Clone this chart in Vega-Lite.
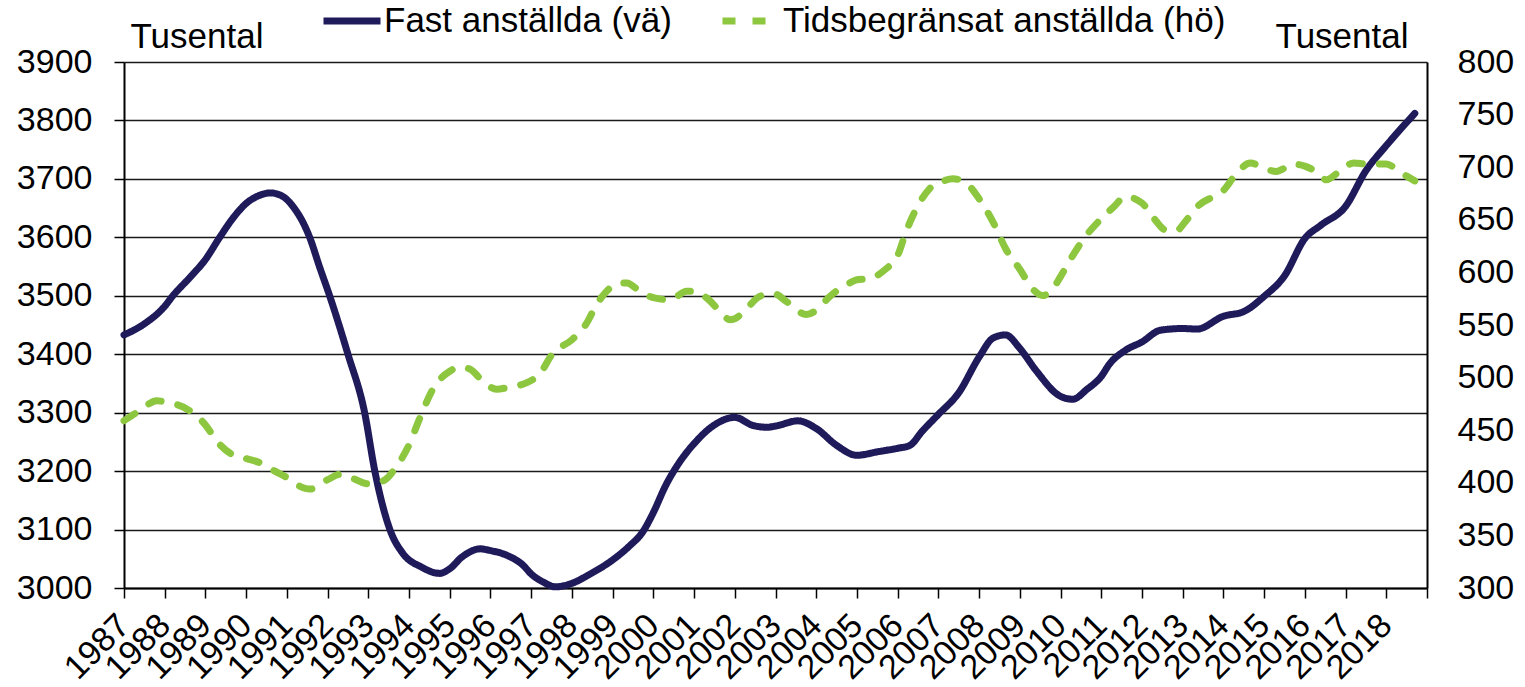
{
  "$schema": "https://vega.github.io/schema/vega-lite/v6.json",
  "width": 1303,
  "height": 526,
  "autosize": {"type": "none"},
  "padding": {"left": 124, "top": 62, "right": 98, "bottom": 99},
  "background": "white",
  "config": {
    "font": "Liberation Sans",
    "view": {"stroke": null},
    "axis": {
      "labelFont": "Liberation Sans",
      "titleFont": "Liberation Sans",
      "labelFontSize": 34,
      "titleFontSize": 35,
      "titleFontWeight": "normal",
      "labelColor": "#000",
      "titleColor": "#000",
      "domainColor": "#000",
      "domainWidth": 2,
      "tickColor": "#000",
      "tickWidth": 1.5
    },
    "legend": {
      "labelFont": "Liberation Sans",
      "labelFontSize": 35,
      "labelColor": "#000",
      "labelLimit": 0
    }
  },
  "data": {
    "values": [
      {"series": "Fast anställda (vä)", "year": 1987.0, "value": 3433},
      {"series": "Fast anställda (vä)", "year": 1987.5, "value": 3452},
      {"series": "Fast anställda (vä)", "year": 1988.0, "value": 3482},
      {"series": "Fast anställda (vä)", "year": 1988.2, "value": 3500},
      {"series": "Fast anställda (vä)", "year": 1988.6, "value": 3530},
      {"series": "Fast anställda (vä)", "year": 1989.0, "value": 3562},
      {"series": "Fast anställda (vä)", "year": 1989.35, "value": 3600},
      {"series": "Fast anställda (vä)", "year": 1989.7, "value": 3635},
      {"series": "Fast anställda (vä)", "year": 1990.0, "value": 3658},
      {"series": "Fast anställda (vä)", "year": 1990.3, "value": 3671},
      {"series": "Fast anställda (vä)", "year": 1990.6, "value": 3676},
      {"series": "Fast anställda (vä)", "year": 1990.9, "value": 3670},
      {"series": "Fast anställda (vä)", "year": 1991.2, "value": 3648},
      {"series": "Fast anställda (vä)", "year": 1991.4, "value": 3625},
      {"series": "Fast anställda (vä)", "year": 1991.56, "value": 3600},
      {"series": "Fast anställda (vä)", "year": 1991.8, "value": 3550},
      {"series": "Fast anställda (vä)", "year": 1992.05, "value": 3500},
      {"series": "Fast anställda (vä)", "year": 1992.5, "value": 3400},
      {"series": "Fast anställda (vä)", "year": 1992.91, "value": 3300},
      {"series": "Fast anställda (vä)", "year": 1993.16, "value": 3200},
      {"series": "Fast anställda (vä)", "year": 1993.53, "value": 3100},
      {"series": "Fast anställda (vä)", "year": 1993.85, "value": 3059},
      {"series": "Fast anställda (vä)", "year": 1994.3, "value": 3036},
      {"series": "Fast anställda (vä)", "year": 1994.75, "value": 3025},
      {"series": "Fast anställda (vä)", "year": 1995.0, "value": 3033},
      {"series": "Fast anställda (vä)", "year": 1995.3, "value": 3053},
      {"series": "Fast anställda (vä)", "year": 1995.75, "value": 3067},
      {"series": "Fast anställda (vä)", "year": 1996.0, "value": 3064},
      {"series": "Fast anställda (vä)", "year": 1996.4, "value": 3056},
      {"series": "Fast anställda (vä)", "year": 1996.8, "value": 3039},
      {"series": "Fast anställda (vä)", "year": 1997.0, "value": 3024},
      {"series": "Fast anställda (vä)", "year": 1997.3, "value": 3010},
      {"series": "Fast anställda (vä)", "year": 1997.6, "value": 3002},
      {"series": "Fast anställda (vä)", "year": 1998.0, "value": 3008},
      {"series": "Fast anställda (vä)", "year": 1998.45, "value": 3024},
      {"series": "Fast anställda (vä)", "year": 1999.0, "value": 3048},
      {"series": "Fast anställda (vä)", "year": 1999.4, "value": 3071},
      {"series": "Fast anställda (vä)", "year": 1999.75, "value": 3097},
      {"series": "Fast anställda (vä)", "year": 2000.0, "value": 3129},
      {"series": "Fast anställda (vä)", "year": 2000.3, "value": 3175},
      {"series": "Fast anställda (vä)", "year": 2000.65, "value": 3216},
      {"series": "Fast anställda (vä)", "year": 2001.0, "value": 3247},
      {"series": "Fast anställda (vä)", "year": 2001.5, "value": 3279},
      {"series": "Fast anställda (vä)", "year": 2002.0, "value": 3292},
      {"series": "Fast anställda (vä)", "year": 2002.45, "value": 3278},
      {"series": "Fast anställda (vä)", "year": 2002.8, "value": 3275},
      {"series": "Fast anställda (vä)", "year": 2003.0, "value": 3277},
      {"series": "Fast anställda (vä)", "year": 2003.55, "value": 3286},
      {"series": "Fast anställda (vä)", "year": 2004.0, "value": 3273},
      {"series": "Fast anställda (vä)", "year": 2004.5, "value": 3244},
      {"series": "Fast anställda (vä)", "year": 2005.0, "value": 3227},
      {"series": "Fast anställda (vä)", "year": 2005.5, "value": 3233},
      {"series": "Fast anställda (vä)", "year": 2006.0, "value": 3239},
      {"series": "Fast anställda (vä)", "year": 2006.3, "value": 3244},
      {"series": "Fast anställda (vä)", "year": 2006.6, "value": 3268},
      {"series": "Fast anställda (vä)", "year": 2007.0, "value": 3297},
      {"series": "Fast anställda (vä)", "year": 2007.5, "value": 3334},
      {"series": "Fast anställda (vä)", "year": 2008.0, "value": 3395},
      {"series": "Fast anställda (vä)", "year": 2008.35, "value": 3428},
      {"series": "Fast anställda (vä)", "year": 2008.65, "value": 3433},
      {"series": "Fast anställda (vä)", "year": 2009.0, "value": 3410},
      {"series": "Fast anställda (vä)", "year": 2009.4, "value": 3372},
      {"series": "Fast anställda (vä)", "year": 2010.0, "value": 3328},
      {"series": "Fast anställda (vä)", "year": 2010.3, "value": 3323},
      {"series": "Fast anställda (vä)", "year": 2010.65, "value": 3340},
      {"series": "Fast anställda (vä)", "year": 2011.0, "value": 3362},
      {"series": "Fast anställda (vä)", "year": 2011.2, "value": 3383},
      {"series": "Fast anställda (vä)", "year": 2011.6, "value": 3407},
      {"series": "Fast anställda (vä)", "year": 2012.0, "value": 3421},
      {"series": "Fast anställda (vä)", "year": 2012.45, "value": 3441},
      {"series": "Fast anställda (vä)", "year": 2013.0, "value": 3444},
      {"series": "Fast anställda (vä)", "year": 2013.35, "value": 3443},
      {"series": "Fast anställda (vä)", "year": 2014.0, "value": 3465},
      {"series": "Fast anställda (vä)", "year": 2014.5, "value": 3473},
      {"series": "Fast anställda (vä)", "year": 2015.0, "value": 3499},
      {"series": "Fast anställda (vä)", "year": 2015.5, "value": 3534},
      {"series": "Fast anställda (vä)", "year": 2016.0, "value": 3598},
      {"series": "Fast anställda (vä)", "year": 2016.4, "value": 3621},
      {"series": "Fast anställda (vä)", "year": 2017.0, "value": 3653},
      {"series": "Fast anställda (vä)", "year": 2017.5, "value": 3714},
      {"series": "Fast anställda (vä)", "year": 2018.0, "value": 3757},
      {"series": "Fast anställda (vä)", "year": 2018.7, "value": 3812},
      {"series": "Tidsbegränsat anställda (hö)", "year": 1987.0, "value": 459},
      {"series": "Tidsbegränsat anställda (hö)", "year": 1987.4, "value": 469},
      {"series": "Tidsbegränsat anställda (hö)", "year": 1987.8, "value": 478},
      {"series": "Tidsbegränsat anställda (hö)", "year": 1988.0, "value": 477},
      {"series": "Tidsbegränsat anställda (hö)", "year": 1988.55, "value": 470},
      {"series": "Tidsbegränsat anställda (hö)", "year": 1988.86, "value": 461},
      {"series": "Tidsbegränsat anställda (hö)", "year": 1989.0, "value": 455},
      {"series": "Tidsbegränsat anställda (hö)", "year": 1989.27, "value": 440},
      {"series": "Tidsbegränsat anställda (hö)", "year": 1989.7, "value": 426},
      {"series": "Tidsbegränsat anställda (hö)", "year": 1990.0, "value": 423},
      {"series": "Tidsbegränsat anställda (hö)", "year": 1990.4, "value": 418},
      {"series": "Tidsbegränsat anställda (hö)", "year": 1990.66, "value": 412},
      {"series": "Tidsbegränsat anställda (hö)", "year": 1991.0, "value": 405},
      {"series": "Tidsbegränsat anställda (hö)", "year": 1991.3, "value": 397},
      {"series": "Tidsbegränsat anställda (hö)", "year": 1991.56, "value": 394},
      {"series": "Tidsbegränsat anställda (hö)", "year": 1992.0, "value": 403},
      {"series": "Tidsbegränsat anställda (hö)", "year": 1992.3, "value": 408},
      {"series": "Tidsbegränsat anställda (hö)", "year": 1992.63, "value": 404},
      {"series": "Tidsbegränsat anställda (hö)", "year": 1993.0, "value": 399},
      {"series": "Tidsbegränsat anställda (hö)", "year": 1993.37, "value": 402},
      {"series": "Tidsbegränsat anställda (hö)", "year": 1993.7, "value": 416},
      {"series": "Tidsbegränsat anställda (hö)", "year": 1994.0, "value": 436},
      {"series": "Tidsbegränsat anställda (hö)", "year": 1994.26, "value": 461},
      {"series": "Tidsbegränsat anställda (hö)", "year": 1994.6, "value": 490},
      {"series": "Tidsbegränsat anställda (hö)", "year": 1995.0, "value": 506},
      {"series": "Tidsbegränsat anställda (hö)", "year": 1995.25, "value": 510},
      {"series": "Tidsbegränsat anställda (hö)", "year": 1995.5, "value": 508},
      {"series": "Tidsbegränsat anställda (hö)", "year": 1995.8, "value": 497},
      {"series": "Tidsbegränsat anställda (hö)", "year": 1996.15, "value": 489},
      {"series": "Tidsbegränsat anställda (hö)", "year": 1996.47, "value": 491},
      {"series": "Tidsbegränsat anställda (hö)", "year": 1996.88, "value": 495},
      {"series": "Tidsbegränsat anställda (hö)", "year": 1997.2, "value": 503},
      {"series": "Tidsbegränsat anställda (hö)", "year": 1997.53, "value": 523},
      {"series": "Tidsbegränsat anställda (hö)", "year": 1998.0, "value": 536},
      {"series": "Tidsbegränsat anställda (hö)", "year": 1998.35, "value": 551},
      {"series": "Tidsbegränsat anställda (hö)", "year": 1998.6, "value": 569},
      {"series": "Tidsbegränsat anställda (hö)", "year": 1998.85, "value": 582},
      {"series": "Tidsbegränsat anställda (hö)", "year": 1999.1, "value": 589},
      {"series": "Tidsbegränsat anställda (hö)", "year": 1999.35, "value": 590},
      {"series": "Tidsbegränsat anställda (hö)", "year": 1999.67, "value": 582},
      {"series": "Tidsbegränsat anställda (hö)", "year": 2000.0, "value": 576},
      {"series": "Tidsbegränsat anställda (hö)", "year": 2000.4, "value": 574},
      {"series": "Tidsbegränsat anställda (hö)", "year": 2000.82, "value": 582},
      {"series": "Tidsbegränsat anställda (hö)", "year": 2001.0, "value": 582},
      {"series": "Tidsbegränsat anställda (hö)", "year": 2001.3, "value": 576},
      {"series": "Tidsbegränsat anställda (hö)", "year": 2001.64, "value": 563},
      {"series": "Tidsbegränsat anställda (hö)", "year": 2001.88, "value": 555},
      {"series": "Tidsbegränsat anställda (hö)", "year": 2002.0, "value": 556},
      {"series": "Tidsbegränsat anställda (hö)", "year": 2002.3, "value": 566},
      {"series": "Tidsbegränsat anställda (hö)", "year": 2002.6, "value": 577},
      {"series": "Tidsbegränsat anställda (hö)", "year": 2002.95, "value": 580},
      {"series": "Tidsbegränsat anställda (hö)", "year": 2003.28, "value": 572},
      {"series": "Tidsbegränsat anställda (hö)", "year": 2003.76, "value": 560},
      {"series": "Tidsbegränsat anställda (hö)", "year": 2004.0, "value": 564},
      {"series": "Tidsbegränsat anställda (hö)", "year": 2004.33, "value": 577},
      {"series": "Tidsbegränsat anställda (hö)", "year": 2004.82, "value": 590},
      {"series": "Tidsbegränsat anställda (hö)", "year": 2005.0, "value": 593},
      {"series": "Tidsbegränsat anställda (hö)", "year": 2005.3, "value": 594},
      {"series": "Tidsbegränsat anställda (hö)", "year": 2005.7, "value": 603},
      {"series": "Tidsbegränsat anställda (hö)", "year": 2006.0, "value": 616},
      {"series": "Tidsbegränsat anställda (hö)", "year": 2006.2, "value": 638},
      {"series": "Tidsbegränsat anställda (hö)", "year": 2006.55, "value": 667},
      {"series": "Tidsbegränsat anställda (hö)", "year": 2006.88, "value": 683},
      {"series": "Tidsbegränsat anställda (hö)", "year": 2007.12, "value": 687},
      {"series": "Tidsbegränsat anställda (hö)", "year": 2007.36, "value": 689},
      {"series": "Tidsbegränsat anställda (hö)", "year": 2007.68, "value": 685},
      {"series": "Tidsbegränsat anställda (hö)", "year": 2008.0, "value": 670},
      {"series": "Tidsbegränsat anställda (hö)", "year": 2008.34, "value": 648},
      {"series": "Tidsbegränsat anställda (hö)", "year": 2008.66, "value": 622},
      {"series": "Tidsbegränsat anställda (hö)", "year": 2009.0, "value": 603},
      {"series": "Tidsbegränsat anställda (hö)", "year": 2009.32, "value": 584},
      {"series": "Tidsbegränsat anställda (hö)", "year": 2009.56, "value": 578},
      {"series": "Tidsbegränsat anställda (hö)", "year": 2009.8, "value": 584},
      {"series": "Tidsbegränsat anställda (hö)", "year": 2010.0, "value": 596},
      {"series": "Tidsbegränsat anställda (hö)", "year": 2010.3, "value": 616},
      {"series": "Tidsbegränsat anställda (hö)", "year": 2010.63, "value": 635},
      {"series": "Tidsbegränsat anställda (hö)", "year": 2011.0, "value": 651},
      {"series": "Tidsbegränsat anställda (hö)", "year": 2011.3, "value": 662},
      {"series": "Tidsbegränsat anställda (hö)", "year": 2011.6, "value": 672},
      {"series": "Tidsbegränsat anställda (hö)", "year": 2012.0, "value": 666},
      {"series": "Tidsbegränsat anställda (hö)", "year": 2012.3, "value": 651},
      {"series": "Tidsbegränsat anställda (hö)", "year": 2012.6, "value": 640},
      {"series": "Tidsbegränsat anställda (hö)", "year": 2012.85, "value": 640},
      {"series": "Tidsbegränsat anställda (hö)", "year": 2013.1, "value": 650},
      {"series": "Tidsbegränsat anställda (hö)", "year": 2013.4, "value": 664},
      {"series": "Tidsbegränsat anställda (hö)", "year": 2013.75, "value": 672},
      {"series": "Tidsbegränsat anställda (hö)", "year": 2014.0, "value": 678},
      {"series": "Tidsbegränsat anställda (hö)", "year": 2014.3, "value": 693},
      {"series": "Tidsbegränsat anställda (hö)", "year": 2014.66, "value": 704},
      {"series": "Tidsbegränsat anställda (hö)", "year": 2015.0, "value": 699},
      {"series": "Tidsbegränsat anställda (hö)", "year": 2015.3, "value": 696},
      {"series": "Tidsbegränsat anställda (hö)", "year": 2015.72, "value": 703},
      {"series": "Tidsbegränsat anställda (hö)", "year": 2016.0, "value": 701},
      {"series": "Tidsbegränsat anställda (hö)", "year": 2016.3, "value": 695},
      {"series": "Tidsbegränsat anställda (hö)", "year": 2016.53, "value": 688},
      {"series": "Tidsbegränsat anställda (hö)", "year": 2016.85, "value": 696},
      {"series": "Tidsbegränsat anställda (hö)", "year": 2017.2, "value": 704},
      {"series": "Tidsbegränsat anställda (hö)", "year": 2017.53, "value": 703},
      {"series": "Tidsbegränsat anställda (hö)", "year": 2018.0, "value": 703},
      {"series": "Tidsbegränsat anställda (hö)", "year": 2018.35, "value": 695},
      {"series": "Tidsbegränsat anställda (hö)", "year": 2018.7, "value": 687}
    ]
  },
  "encoding": {
    "x": {
      "field": "year",
      "type": "quantitative",
      "scale": {"domain": [1987, 2019], "nice": false, "zero": false},
      "axis": {
        "title": null,
        "grid": false,
        "values": [1987, 1988, 1989, 1990, 1991, 1992, 1993, 1994, 1995, 1996, 1997, 1998, 1999, 2000, 2001, 2002, 2003, 2004, 2005, 2006, 2007, 2008, 2009, 2010, 2011, 2012, 2013, 2014, 2015, 2016, 2017, 2018, 2019],
        "format": "d",
        "labelExpr": "datum.value >= 2019 ? '' : datum.label",
        "labelAngle": -45,
        "labelAlign": "right",
        "labelBaseline": "middle",
        "labelOverlap": false,
        "labelBound": false,
        "labelFlush": false,
        "tickSize": 10,
        "labelPadding": 22
      }
    },
    "color": {
      "field": "series",
      "type": "nominal",
      "scale": {
        "domain": ["Fast anställda (vä)", "Tidsbegränsat anställda (hö)"],
        "range": ["#1f1b5b", "#8dc63f"]
      },
      "legend": {
        "title": null,
        "orient": "none",
        "legendX": 196,
        "legendY": -73,
        "direction": "horizontal",
        "symbolType": "stroke",
        "symbolStrokeWidth": 7,
        "symbolSize": 3249,
        "labelOffset": 0,
        "columnPadding": 36,
        "padding": 0
      }
    },
    "strokeDash": {
      "field": "series",
      "type": "nominal",
      "scale": {
        "domain": ["Fast anställda (vä)", "Tidsbegränsat anställda (hö)"],
        "range": [[1, 0], [13, 17]]
      },
      "legend": {
        "title": null,
        "orient": "none",
        "legendX": 196,
        "legendY": -73,
        "direction": "horizontal",
        "symbolType": "stroke",
        "symbolStrokeWidth": 7,
        "symbolSize": 3249,
        "labelOffset": 0,
        "columnPadding": 36,
        "padding": 0
      }
    }
  },
  "layer": [
    {
      "transform": [{"filter": "datum.series === 'Fast anställda (vä)'"}],
      "mark": {"type": "line", "interpolate": "monotone", "strokeWidth": 7, "strokeCap": "round", "strokeJoin": "round"},
      "encoding": {
        "y": {
          "field": "value",
          "type": "quantitative",
          "scale": {"domain": [3000, 3900], "nice": false, "zero": false},
          "axis": {
            "orient": "left",
            "values": [3000, 3100, 3200, 3300, 3400, 3500, 3600, 3700, 3800, 3900],
            "format": "d",
            "grid": true,
            "gridColor": "#1a1a1a",
            "gridWidth": 1.6,
            "tickSize": 10,
            "labelPadding": 22,
            "title": "Tusental",
            "titleAngle": 0,
            "titleAlign": "left",
            "titleBaseline": "alphabetic",
            "titleX": 6,
            "titleY": -15
          }
        }
      }
    },
    {
      "transform": [{"filter": "datum.series === 'Tidsbegränsat anställda (hö)'"}],
      "mark": {"type": "line", "interpolate": "monotone", "strokeWidth": 7, "strokeCap": "round", "strokeJoin": "round"},
      "encoding": {
        "y": {
          "field": "value",
          "type": "quantitative",
          "scale": {"domain": [300, 800], "nice": false, "zero": false},
          "axis": {
            "orient": "right",
            "values": [300, 350, 400, 450, 500, 550, 600, 650, 700, 750, 800],
            "format": "d",
            "grid": false,
            "ticks": false,
            "tickSize": 0,
            "labelPadding": 30,
            "title": "Tusental",
            "titleAngle": 0,
            "titleAlign": "right",
            "titleBaseline": "alphabetic",
            "titleX": -19,
            "titleY": -15
          }
        }
      }
    }
  ],
  "resolve": {"scale": {"y": "independent"}}
}
